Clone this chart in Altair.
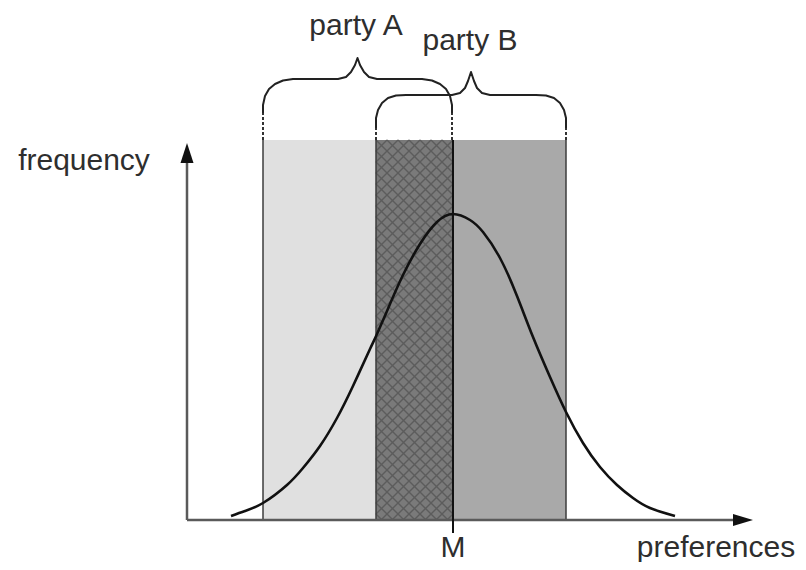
import altair as alt
import pandas as pd

# ---------------- data (x = preference position, freq = height above the x-axis) ----------
curve_x = [231, 245, 263, 287, 303, 320, 337, 353, 370, 377, 390, 403, 420, 437, 453,
           470, 483, 500, 517, 533, 550, 566, 583, 600, 617, 633, 650, 675]
curve_freq = [4, 9, 17, 35, 52, 74, 102, 134, 171, 186, 216, 245, 276, 298, 306,
              300, 288, 262, 224, 183, 143, 108, 77, 53, 35, 22, 12, 4]

region_names = ["party A only", "overlap", "party B only"]
region_start = [263, 376, 453]
region_end = [376, 453, 566]
region_top = [380, 380, 380]
region_colors = ["#e0e0e0", "#7a7a7a", "#a9a9a9"]

edge_x = [263, 376, 566]
median_x = 453

braceA_x = [263, 263, 265, 269, 275, 283, 293, 338, 346, 351, 355, 357.5, 360, 364, 369, 377,
            422, 432, 440, 446, 450, 452, 452]
braceA_freq = [407, 415, 424, 431, 436, 439.5, 441, 441, 443, 448, 455, 462, 455, 448, 443, 441,
               441, 439.5, 436, 431, 424, 415, 407]
braceB_x = [376, 376, 378, 382, 388, 396, 406, 452, 460, 465, 468, 471, 474, 477, 482, 490,
            536, 546, 554, 560, 564, 566, 566]
braceB_freq = [392, 402, 410, 417, 422, 424.5, 425, 425, 427, 432, 439, 448, 439, 432, 427, 425,
               425, 424.5, 422, 417, 410, 402, 392]

dash_x = [263, 452, 376, 566]
dash_lo = [380, 380, 380, 380]
dash_hi = [407, 407, 392, 392]

label_text = ["party A", "party B", "frequency", "M", "preferences"]
label_x = [356, 470, 84, 453, 716]
label_freq = [485, 470, 350, -37, -37]

axis_origin_x = 187
x_axis_end = 735
y_axis_top = 357

# ---------------- scales ----------------
xs = alt.Scale(domain=[8, 798], nice=False, zero=False)
ys = alt.Scale(domain=[-42, 512], nice=False, zero=False)


def X(f="x"):
    return alt.X(f"{f}:Q", scale=xs, axis=None)


def Y(f="y"):
    return alt.Y(f"{f}:Q", scale=ys, axis=None)


# regions
reg_df = pd.DataFrame({"name": region_names, "x": region_start, "x2": region_end,
                       "y": [0] * 3, "y2": region_top, "c": region_colors})
regions = alt.Chart(reg_df).mark_rect(stroke=None).encode(
    x=X(), x2="x2:Q", y=Y(), y2="y2:Q", color=alt.Color("c:N", scale=None))

# cross-hatch texture in the overlap
hx0, hx1 = region_start[1], region_end[1]
hy0, hy1 = 520 - region_top[1], 520
rows = []
step = 11
c = hy0 - hx1
while c <= hy1 - hx0:
    xa, xb = max(hx0, hy0 - c), min(hx1, hy1 - c)
    if xa < xb:
        rows.append({"x": xa, "y": 520 - (xa + c), "x2": xb, "y2": 520 - (xb + c)})
    c += step
c = hx0 + hy0
while c <= hx1 + hy1:
    xa, xb = max(hx0, c - hy1), min(hx1, c - hy0)
    if xa < xb:
        rows.append({"x": xa, "y": 520 - (c - xa), "x2": xb, "y2": 520 - (c - xb)})
    c += step
hatch = alt.Chart(pd.DataFrame(rows)).mark_rule(color="#5c5c5c", strokeWidth=1.4).encode(
    x=X(), y=Y(), x2="x2:Q", y2="y2:Q")

# region edges
edges = alt.Chart(pd.DataFrame({"x": edge_x, "y": [0] * 3, "y2": [380] * 3})).mark_rule(
    color="#3c3c3c", strokeWidth=1.5).encode(x=X(), y=Y(), y2="y2:Q")
median = alt.Chart(pd.DataFrame({"x": [median_x], "y": [-13], "y2": [380]})).mark_rule(
    color="#111111", strokeWidth=2).encode(x=X(), y=Y(), y2="y2:Q")
dashes = alt.Chart(pd.DataFrame({"x": dash_x, "y": dash_lo, "y2": dash_hi})).mark_rule(
    color="#333333", strokeWidth=2, strokeDash=[3, 2]).encode(x=X(), y=Y(), y2="y2:Q")

# distribution curve
curve = alt.Chart(pd.DataFrame({"x": curve_x, "y": curve_freq})).mark_line(
    color="#111111", strokeWidth=2.6, interpolate="natural").encode(x=X(), y=Y())

# axes
axes_df = pd.DataFrame({"x": [axis_origin_x, axis_origin_x], "x2": [x_axis_end, axis_origin_x],
                        "y": [0, 0], "y2": [0, y_axis_top]})
axes = alt.Chart(axes_df).mark_rule(color="#5a5a5a", strokeWidth=2.5).encode(
    x=X(), x2="x2:Q", y=Y(), y2="y2:Q")
up_arrow = alt.Chart(pd.DataFrame({"x": [axis_origin_x], "y": [367]})).mark_point(
    shape="M0,-1L0.65,1L-0.65,1Z", size=400, filled=True, color="#111111", opacity=1).encode(
    x=X(), y=Y())
right_arrow = alt.Chart(pd.DataFrame({"x": [743], "y": [0]})).mark_point(
    shape="M1,0L-1,-0.6L-1,0.6Z", size=400, filled=True, color="#111111", opacity=1).encode(
    x=X(), y=Y())

# braces
br_rows = []
for i, (bx, by) in enumerate(zip(braceA_x, braceA_freq)):
    br_rows.append({"b": "A", "i": i, "x": bx, "y": by})
for i, (bx, by) in enumerate(zip(braceB_x, braceB_freq)):
    br_rows.append({"b": "B", "i": i, "x": bx, "y": by})
braces = alt.Chart(pd.DataFrame(br_rows)).mark_line(
    color="#222222", strokeWidth=2, strokeJoin="round").encode(
    x=X(), y=Y(), detail="b:N", order="i:Q")

# labels
labels = alt.Chart(pd.DataFrame({"t": label_text, "x": label_x, "y": label_freq})).mark_text(
    font="Liberation Sans", fontSize=30, color="#2e2e2e", align="center",
    baseline="alphabetic").encode(x=X(), y=Y(), text="t:N")

chart = alt.layer(regions, hatch, edges, dashes, curve, axes, median, up_arrow, right_arrow,
                  braces, labels).properties(
    width=790, height=554, padding=0, autosize="none"
).configure_view(stroke=None)

chart.save("out.html", embed_options={"renderer": "svg", "actions": False})
